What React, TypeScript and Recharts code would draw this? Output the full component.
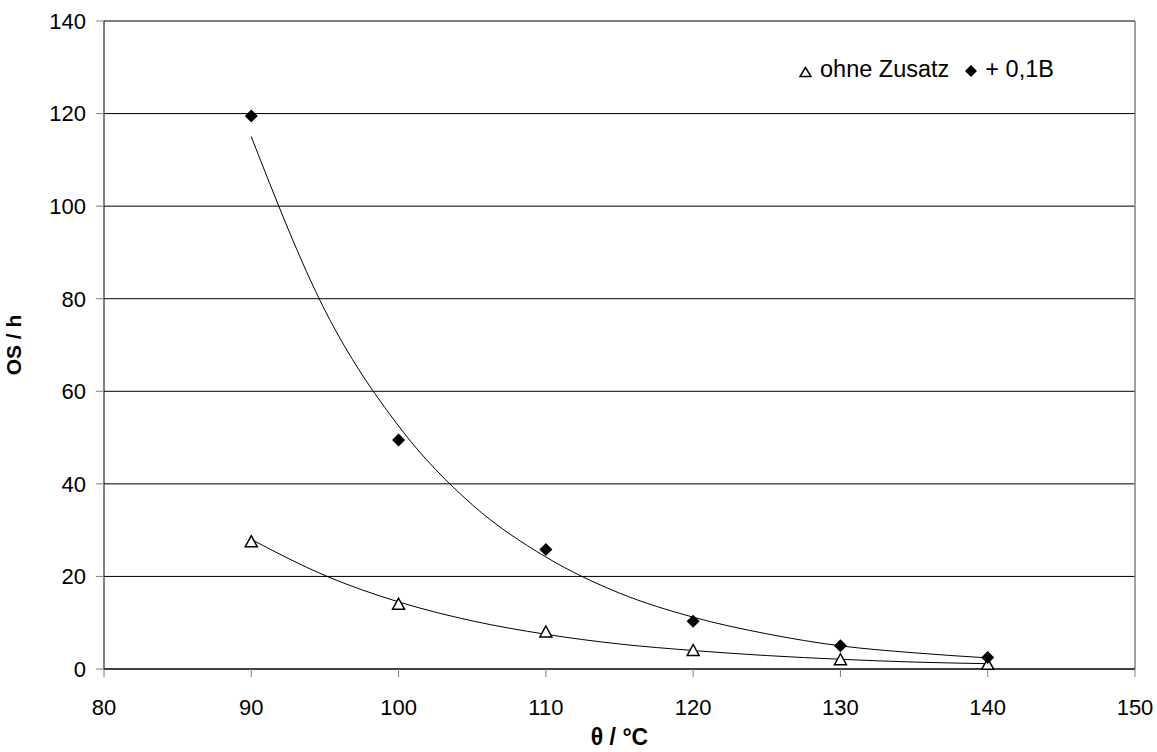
import React from 'react';
import { ComposedChart, Line, Scatter, XAxis, YAxis, CartesianGrid, ReferenceLine, Legend } from 'recharts';

// Messpunkte
const theta = [90, 100, 110, 120, 130, 140];
const ohneZusatz = [27.5, 14, 8, 4, 2, 1];
const plusB = [119.5, 49.5, 25.8, 10.3, 5, 2.5];

// Trendlinien
const trendTheta = [90, 95, 100, 105, 110, 115, 120, 125, 130, 135, 140];
const trendOhne = [28, 20.2, 14.5, 10.4, 7.5, 5.4, 4.0, 2.9, 2.1, 1.5, 1.15];
const trendPlusB = [115, 77.5, 52.5, 35.5, 24.2, 16.4, 11.2, 7.6, 5.0, 3.5, 2.4];

const xTicks = [80, 90, 100, 110, 120, 130, 140, 150];
const yTicks = [0, 20, 40, 60, 80, 100, 120, 140];

const font = 'Arial, "Liberation Sans", sans-serif';

const ohneData = theta.map((x, i) => ({ x, y: ohneZusatz[i] }));
const plusBData = theta.map((x, i) => ({ x, y: plusB[i] }));
const trendOhneData = trendTheta.map((x, i) => ({ x, y: trendOhne[i] }));
const trendPlusBData = trendTheta.map((x, i) => ({ x, y: trendPlusB[i] }));

const Triangle = (props: any) => {
  const { cx, cy } = props;
  return (
    <polygon
      points={`${cx},${cy - 6} ${cx - 6},${cy + 5} ${cx + 6},${cy + 5}`}
      fill="#fff"
      stroke="#000"
      strokeWidth={1.5}
    />
  );
};

const Diamond = (props: any) => {
  const { cx, cy } = props;
  return <polygon points={`${cx},${cy - 6.5} ${cx + 6.5},${cy} ${cx},${cy + 6.5} ${cx - 6.5},${cy}`} fill="#000" />;
};

const LegendBox = () => (
  <div style={{ display: 'flex', alignItems: 'center', fontFamily: font, fontSize: 23.5, color: '#000', whiteSpace: 'nowrap' }}>
    <svg width={13} height={12} style={{ marginRight: 8, marginTop: 4 }}>
      <polygon points="6.5,1.5 1,10.5 12,10.5" fill="#fff" stroke="#000" strokeWidth={1.5} />
    </svg>
    <span>ohne Zusatz</span>
    <svg width={14} height={14} style={{ marginLeft: 15, marginRight: 7, marginTop: 2 }}>
      <polygon points="7,1 13,7 7,13 1,7" fill="#000" />
    </svg>
    <span>+ 0,1B</span>
  </div>
);

const App: React.FC = () => {
  return (
    <div style={{ position: 'absolute', left: 0, top: 0, width: 1157, height: 752, background: '#fff' }}>
      <ComposedChart width={1157} height={752} margin={{ top: 21, right: 22, left: 4, bottom: 43 }}>
        <CartesianGrid vertical={false} stroke="#000" strokeWidth={1} />
        <XAxis
          type="number"
          dataKey="x"
          domain={[80, 150]}
          ticks={xTicks}
          height={40}
          stroke="#000"
          tickSize={8}
          tickMargin={22}
          tickLine={{ stroke: '#808080' }}
          tick={{ fill: '#000', fontSize: 22, fontFamily: font }}
          label={{ value: 'θ / °C', position: 'insideBottom', offset: -36, fill: '#000', fontSize: 23, fontWeight: 'bold', fontFamily: font }}
        />
        <YAxis
          type="number"
          dataKey="y"
          domain={[0, 140]}
          ticks={yTicks}
          width={100}
          stroke="#000"
          tickSize={8}
          tickMargin={10}
          tickLine={{ stroke: '#808080' }}
          tick={{ fill: '#000', fontSize: 22, fontFamily: font }}
          label={{ value: 'OS / h', angle: -90, position: 'insideLeft', offset: 10, fill: '#000', fontSize: 21, fontWeight: 'bold', fontFamily: font, style: { textAnchor: 'middle' } }}
        />
        <ReferenceLine x={150} stroke="#808080" strokeWidth={1.5} />
        <Legend
          layout="vertical"
          verticalAlign="middle"
          align="center"
          content={() => <LegendBox />}
          wrapperStyle={{ top: 56, left: 799, width: 'auto', height: 'auto' }}
        />
        <Line data={trendPlusBData} dataKey="y" type="monotone" stroke="#000" strokeWidth={1} dot={false} isAnimationActive={false} legendType="none" />
        <Line data={trendOhneData} dataKey="y" type="monotone" stroke="#000" strokeWidth={1} dot={false} isAnimationActive={false} legendType="none" />
        <Scatter data={ohneData} dataKey="y" shape={Triangle} isAnimationActive={false} />
        <Scatter data={plusBData} dataKey="y" shape={Diamond} isAnimationActive={false} />
      </ComposedChart>
    </div>
  );
};

export default App;
